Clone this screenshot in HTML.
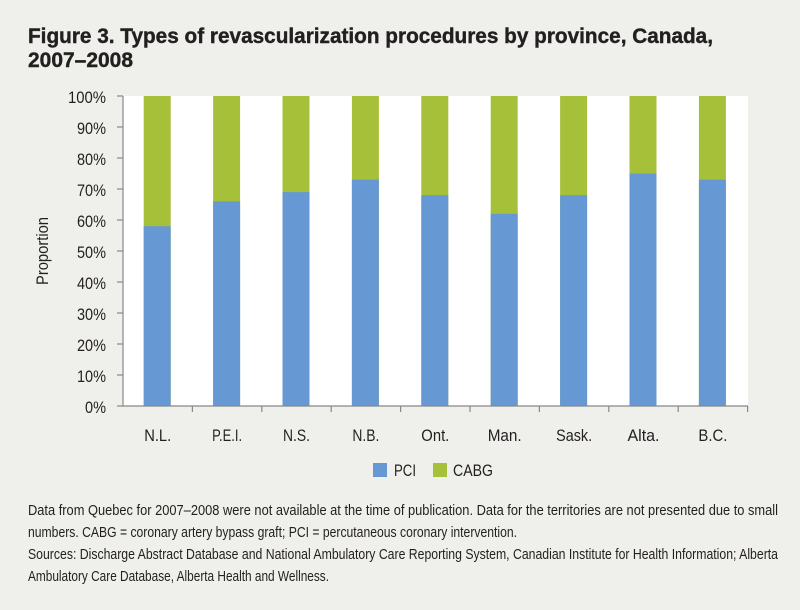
<!DOCTYPE html>
<html><head><meta charset="utf-8"><style>
html,body{margin:0;padding:0;background:#efefeb;}
svg{display:block;}
text{font-family:"Liberation Sans Narrow","Liberation Sans",sans-serif;fill:#231f20;}
</style></head><body>
<svg width="800" height="610" xmlns="http://www.w3.org/2000/svg">
<rect width="800" height="610" fill="#efefeb"/>
<text x="28" y="43" font-weight="bold" font-size="21" textLength="685" lengthAdjust="spacingAndGlyphs" style="font-family:'Liberation Sans',sans-serif" stroke="#231f20" stroke-width="0.4">Figure 3. Types of revascularization procedures by province, Canada,</text>
<text x="28" y="67" font-weight="bold" font-size="21" textLength="105" lengthAdjust="spacingAndGlyphs" style="font-family:'Liberation Sans',sans-serif" stroke="#231f20" stroke-width="0.4">2007–2008</text>
<rect x="123" y="96" width="625" height="310" fill="#fff"/>
<g>
<rect x="143.7" y="96" width="27" height="310" fill="#a7c03a"/><rect x="143.7" y="226.2" width="27" height="179.8" fill="#6699d3"/>
<rect x="213.1" y="96" width="27" height="310" fill="#a7c03a"/><rect x="213.1" y="201.4" width="27" height="204.6" fill="#6699d3"/>
<rect x="282.5" y="96" width="27" height="310" fill="#a7c03a"/><rect x="282.5" y="192.1" width="27" height="213.9" fill="#6699d3"/>
<rect x="351.9" y="96" width="27" height="310" fill="#a7c03a"/><rect x="351.9" y="179.7" width="27" height="226.3" fill="#6699d3"/>
<rect x="421.3" y="96" width="27" height="310" fill="#a7c03a"/><rect x="421.3" y="195.2" width="27" height="210.8" fill="#6699d3"/>
<rect x="490.7" y="96" width="27" height="310" fill="#a7c03a"/><rect x="490.7" y="213.8" width="27" height="192.2" fill="#6699d3"/>
<rect x="560.1" y="96" width="27" height="310" fill="#a7c03a"/><rect x="560.1" y="195.2" width="27" height="210.8" fill="#6699d3"/>
<rect x="629.5" y="96" width="27" height="310" fill="#a7c03a"/><rect x="629.5" y="173.5" width="27" height="232.5" fill="#6699d3"/>
<rect x="698.9" y="96" width="27" height="310" fill="#a7c03a"/><rect x="698.9" y="179.7" width="27" height="226.3" fill="#6699d3"/>
</g>
<line x1="123" y1="96" x2="123" y2="406" stroke="#888" stroke-width="1.2"/>
<line x1="123" y1="406" x2="748" y2="406" stroke="#888" stroke-width="1.2"/>
<g stroke="#888" stroke-width="1.2">
<line x1="117" y1="96" x2="123" y2="96"/><line x1="117" y1="127" x2="123" y2="127"/><line x1="117" y1="158" x2="123" y2="158"/><line x1="117" y1="189" x2="123" y2="189"/><line x1="117" y1="220" x2="123" y2="220"/><line x1="117" y1="251" x2="123" y2="251"/><line x1="117" y1="282" x2="123" y2="282"/><line x1="117" y1="313" x2="123" y2="313"/><line x1="117" y1="344" x2="123" y2="344"/><line x1="117" y1="375" x2="123" y2="375"/><line x1="117" y1="406" x2="123" y2="406"/>
<line x1="192.4" y1="406" x2="192.4" y2="412"/><line x1="261.8" y1="406" x2="261.8" y2="412"/><line x1="331.2" y1="406" x2="331.2" y2="412"/><line x1="400.6" y1="406" x2="400.6" y2="412"/><line x1="470" y1="406" x2="470" y2="412"/><line x1="539.4" y1="406" x2="539.4" y2="412"/><line x1="608.8" y1="406" x2="608.8" y2="412"/><line x1="678.2" y1="406" x2="678.2" y2="412"/><line x1="747.6" y1="406" x2="747.6" y2="412"/>
</g>
<g font-size="17" text-anchor="end" lengthAdjust="spacingAndGlyphs">
<text x="106" y="103" textLength="38" lengthAdjust="spacingAndGlyphs">100%</text><text x="106" y="134" textLength="29" lengthAdjust="spacingAndGlyphs">90%</text><text x="106" y="165" textLength="29" lengthAdjust="spacingAndGlyphs">80%</text><text x="106" y="196" textLength="29" lengthAdjust="spacingAndGlyphs">70%</text><text x="106" y="227" textLength="29" lengthAdjust="spacingAndGlyphs">60%</text><text x="106" y="258" textLength="29" lengthAdjust="spacingAndGlyphs">50%</text><text x="106" y="289" textLength="29" lengthAdjust="spacingAndGlyphs">40%</text><text x="106" y="320" textLength="29" lengthAdjust="spacingAndGlyphs">30%</text><text x="106" y="351" textLength="29" lengthAdjust="spacingAndGlyphs">20%</text><text x="106" y="382" textLength="29" lengthAdjust="spacingAndGlyphs">10%</text><text x="106" y="413" textLength="21" lengthAdjust="spacingAndGlyphs">0%</text>
</g>
<text transform="translate(48,251) rotate(-90)" font-size="17" text-anchor="middle" textLength="68" lengthAdjust="spacingAndGlyphs">Proportion</text>
<g font-size="17" text-anchor="middle">
<text x="157.7" y="441" textLength="27" lengthAdjust="spacingAndGlyphs">N.L.</text><text x="227.1" y="441" textLength="30" lengthAdjust="spacingAndGlyphs">P.E.I.</text><text x="296.5" y="441" textLength="27" lengthAdjust="spacingAndGlyphs">N.S.</text><text x="365.9" y="441" textLength="27" lengthAdjust="spacingAndGlyphs">N.B.</text><text x="435.3" y="441" textLength="28" lengthAdjust="spacingAndGlyphs">Ont.</text><text x="504.7" y="441" textLength="34" lengthAdjust="spacingAndGlyphs">Man.</text><text x="574.1" y="441" textLength="36" lengthAdjust="spacingAndGlyphs">Sask.</text><text x="643.5" y="441" textLength="32" lengthAdjust="spacingAndGlyphs">Alta.</text><text x="712.9" y="441" textLength="29" lengthAdjust="spacingAndGlyphs">B.C.</text>
</g>
<rect x="373" y="463" width="14" height="14" fill="#6699d3"/>
<text x="394" y="476" font-size="17" textLength="22" lengthAdjust="spacingAndGlyphs">PCI</text>
<rect x="433" y="463" width="14" height="14" fill="#a7c03a"/>
<text x="453" y="476" font-size="17" textLength="40" lengthAdjust="spacingAndGlyphs">CABG</text>
<g font-size="14.5">
<text x="28" y="515" textLength="750" lengthAdjust="spacingAndGlyphs">Data from Quebec for 2007–2008 were not available at the time of publication. Data for the territories are not presented due to small</text>
<text x="28" y="537" textLength="489" lengthAdjust="spacingAndGlyphs">numbers. CABG = coronary artery bypass graft; PCI = percutaneous coronary intervention.</text>
<text x="28" y="559" textLength="750" lengthAdjust="spacingAndGlyphs">Sources: Discharge Abstract Database and National Ambulatory Care Reporting System, Canadian Institute for Health Information; Alberta</text>
<text x="28" y="581" textLength="301" lengthAdjust="spacingAndGlyphs">Ambulatory Care Database, Alberta Health and Wellness.</text>
</g>
</svg>
</body></html>
